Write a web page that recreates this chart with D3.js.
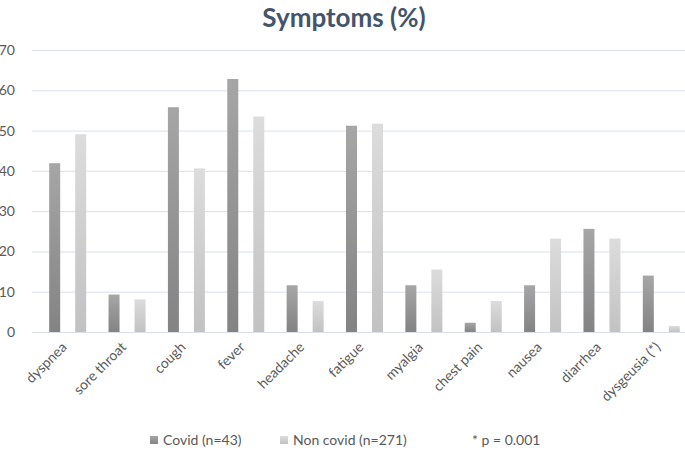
<!DOCTYPE html>
<html>
<head>
<meta charset="utf-8">
<script src="https://cdn.jsdelivr.net/npm/d3@7"></script>
<style>
  body { margin: 0; background: #fff; }
  svg { font-family: Lato, "Open Sans", sans-serif; }
</style>
</head>
<body>
<div class="dataviz"><svg></svg></div>
<script>
const categories = ["dyspnea", "sore throat", "cough", "fever", "headache", "fatigue",
  "myalgia", "chest pain", "nausea", "diarrhea", "dysgeusia (*)"];
const covid = [41.9, 9.3, 55.8, 62.8, 11.6, 51.2, 11.6, 2.3, 11.6, 25.6, 14.0];
const nonCovid = [49.1, 8.1, 40.6, 53.5, 7.7, 51.7, 15.5, 7.7, 23.2, 23.2, 1.5];
const seriesNames = ["Covid (n=43)", "Non covid (n=271)"];
const yTicks = [0, 10, 20, 30, 40, 50, 60, 70];

width = 685;
height = 450;

margin = ({top: 50, right: -6, bottom: 118, left: 38})

// build rows from the arrays
var data = categories.map((c, i) => ({name: c, values: [covid[i], nonCovid[i]]}));

const svg = d3.select(".dataviz > svg")
    .attr("width", width)
    .attr("height", height);

const defs = svg.append("defs");
const grads = [["gCovid", "#a6a6a6", "#838383"], ["gNon", "#dcdcdc", "#c2c2c2"]];
grads.forEach(g => {
  const lg = defs.append("linearGradient")
      .attr("id", g[0])
      .attr("x1", 0).attr("y1", 0).attr("x2", 0).attr("y2", 1);
  lg.append("stop").attr("offset", "0%").attr("stop-color", g[1]);
  lg.append("stop").attr("offset", "100%").attr("stop-color", g[2]);
});

x = d3.scaleBand()
  .domain(categories)
  .range([margin.left, width - margin.right])
  .padding(0);

bw = x.bandwidth();
xSub = d3.scaleBand()
  .domain([0, 1])
  .range([bw / 2 - 18.5, bw / 2 + 18.5])
  .paddingInner(0.577);

y = d3.scaleLinear()
  .domain([0, 70])
  .range([height - margin.bottom, margin.top]);

// title
svg.append("text")
    .attr("x", 344)
    .attr("y", 27)
    .attr("text-anchor", "middle")
    .attr("font-size", 26)
    .attr("font-weight", "bold")
    .attr("fill", "#44546a")
    .text("Symptoms (%)");

// grid + y labels
yAxis = g => g
  .attr("transform", `translate(32,0)`)
  .call(d3.axisRight(y).tickValues(yTicks).tickSize(width - 32).tickFormat(d3.format("d")))
  .call(g => g.select(".domain").remove())
  .call(g => g.selectAll(".tick line").attr("stroke", "#dae0ea").attr("stroke-width", 1))
  .call(g => g.selectAll(".tick text")
      .attr("x", -17)
      .attr("text-anchor", "end")
      .attr("fill", "#595959")
      .attr("font-size", 14)
      .attr("font-family", "Lato, sans-serif"));

svg.append("g")
    .attr("class", "y-axis")
    .call(yAxis);

// bars
const groups = svg.append("g")
    .attr("class", "bars")
  .selectAll("g")
  .data(data)
  .join("g")
    .attr("transform", d => `translate(${x(d.name)},0)`);

groups.selectAll("rect")
  .data(d => d.values.map((v, i) => ({i: i, value: v})))
  .join("rect")
    .attr("x", d => xSub(d.i))
    .attr("y", d => y(d.value))
    .attr("width", xSub.bandwidth())
    .attr("height", d => y(0) - y(d.value))
    .attr("fill", d => d.i === 0 ? "url(#gCovid)" : "url(#gNon)");

// x labels
xAxis = g => g
  .attr("transform", `translate(0,${height - margin.bottom})`)
  .call(d3.axisBottom(x).tickSize(0))
  .call(g => g.select(".domain").remove())
  .call(g => g.selectAll(".tick text")
      .attr("text-anchor", "end")
      .attr("fill", "#595959")
      .attr("font-size", 14)
      .attr("font-family", "Lato, sans-serif")
      .attr("dy", 0)
      .attr("y", 0)
      .attr("transform", "translate(0,16) rotate(-45)"));

svg.append("g")
    .attr("class", "x-axis")
    .call(xAxis);

// legend
const legend = svg.append("g").attr("class", "legend")
    .attr("font-size", 14)
    .attr("fill", "#595959");
const legX = [150, 280];
seriesNames.forEach((s, i) => {
  legend.append("rect")
      .attr("x", legX[i])
      .attr("y", 436)
      .attr("width", 8)
      .attr("height", 8)
      .attr("fill", i === 0 ? "url(#gCovid)" : "url(#gNon)");
  legend.append("text")
      .attr("x", legX[i] + 13)
      .attr("y", 445)
      .text(s);
});
legend.append("text")
    .attr("x", 472)
    .attr("y", 445)
    .text("* p = 0.001");
</script>
</body>
</html>
